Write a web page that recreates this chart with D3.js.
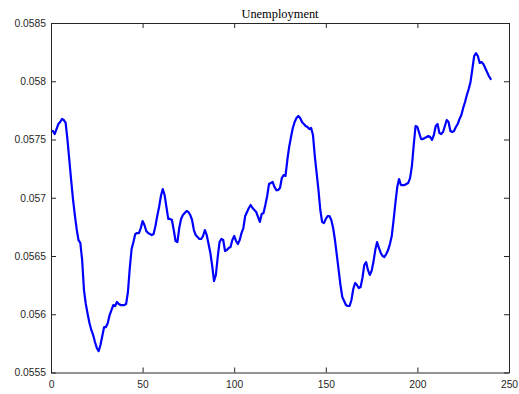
<!DOCTYPE html>
<html>
<head>
<meta charset="utf-8">
<script src="https://cdn.jsdelivr.net/npm/d3@7"></script>
<style>
  html, body { margin: 0; padding: 0; background: #fff; }
  svg { display: block; }
</style>
</head>
<body>
<svg id="chart" width="519" height="394"></svg>
<script>
// Unemployment rate series, periods 1..240
const titleText = "Unemployment";
const periods = d3.range(1, 241);
const unemployment = [
  0.057573, 0.057547, 0.057590, 0.057633, 0.057650, 0.057676, 0.057667, 0.057642, 0.057496, 0.057324,
  0.057152, 0.056989, 0.056852, 0.056732, 0.056637, 0.056612, 0.056466, 0.056208, 0.056088, 0.056002,
  0.055925, 0.055865, 0.055822, 0.055762, 0.055710, 0.055684, 0.055736, 0.055813, 0.055890, 0.055890,
  0.055925, 0.055993, 0.056036, 0.056079, 0.056071, 0.056105, 0.056088, 0.056079, 0.056079, 0.056079,
  0.056088, 0.056191, 0.056397, 0.056560, 0.056620, 0.056689, 0.056697, 0.056697, 0.056740, 0.056800,
  0.056766, 0.056715, 0.056697, 0.056689, 0.056680, 0.056689, 0.056757, 0.056843, 0.056921, 0.057015,
  0.057075, 0.057024, 0.056921, 0.056818, 0.056818, 0.056809, 0.056723, 0.056629, 0.056620, 0.056740,
  0.056818, 0.056852, 0.056869, 0.056886, 0.056878, 0.056852, 0.056809, 0.056723, 0.056680, 0.056663,
  0.056646, 0.056646, 0.056672, 0.056723, 0.056680, 0.056603, 0.056526, 0.056414, 0.056285, 0.056337,
  0.056491, 0.056620, 0.056646, 0.056637, 0.056543, 0.056551, 0.056569, 0.056577, 0.056637, 0.056672,
  0.056629, 0.056603, 0.056637, 0.056697, 0.056740, 0.056843, 0.056878, 0.056912, 0.056938, 0.056912,
  0.056895, 0.056878, 0.056835, 0.056792, 0.056860, 0.056869, 0.056938, 0.057015, 0.057118, 0.057127,
  0.057135, 0.057092, 0.057066, 0.057066, 0.057084, 0.057169, 0.057195, 0.057187, 0.057324, 0.057436,
  0.057521, 0.057599, 0.057650, 0.057685, 0.057702, 0.057685, 0.057650, 0.057633, 0.057616, 0.057607,
  0.057590, 0.057599, 0.057539, 0.057358, 0.057212, 0.057066, 0.056895, 0.056792, 0.056783, 0.056818,
  0.056843, 0.056843, 0.056809, 0.056740, 0.056637, 0.056509, 0.056380, 0.056251, 0.056148, 0.056114,
  0.056079, 0.056071, 0.056071, 0.056122, 0.056217, 0.056268, 0.056251, 0.056225, 0.056234, 0.056311,
  0.056423, 0.056448, 0.056380, 0.056337, 0.056371, 0.056448, 0.056551, 0.056620, 0.056569, 0.056526,
  0.056500, 0.056491, 0.056517, 0.056551, 0.056603, 0.056672, 0.056809, 0.056955, 0.057092, 0.057161,
  0.057109, 0.057109, 0.057109, 0.057118, 0.057127, 0.057169, 0.057272, 0.057453, 0.057616, 0.057607,
  0.057556, 0.057504, 0.057504, 0.057513, 0.057521, 0.057530, 0.057521, 0.057496, 0.057539, 0.057616,
  0.057633, 0.057556, 0.057547, 0.057564, 0.057616, 0.057667, 0.057650, 0.057573, 0.057564, 0.057573,
  0.057607, 0.057633, 0.057676, 0.057710, 0.057770, 0.057822, 0.057882, 0.057933, 0.057994, 0.058105,
  0.058217, 0.058242, 0.058217, 0.058157, 0.058165, 0.058148, 0.058114, 0.058079, 0.058045, 0.058019
];
const xTicks = [0, 50, 100, 150, 200, 250];
const yTicks = [0.0555, 0.056, 0.0565, 0.057, 0.0575, 0.058, 0.0585];
const yTickLabels = ["0.0555", "0.056", "0.0565", "0.057", "0.0575", "0.058", "0.0585"];

const svg = d3.select("#chart");
const plot = { left: 51, right: 509, top: 23, bottom: 372.5 };
const axisColor = "#262626";
const tickLen = 5;

const x = d3.scaleLinear().domain([0, 250]).range([plot.left, plot.right]);
const y = d3.scaleLinear().domain([0.0555, 0.0585]).range([plot.bottom, plot.top]);

function styleAxis(g) {
  g.selectAll("path.domain").attr("stroke", axisColor).attr("stroke-width", 1);
  g.selectAll(".tick line").attr("stroke", axisColor).attr("stroke-width", 1);
  g.selectAll(".tick text")
    .attr("fill", axisColor)
    .style("font-family", "'Liberation Sans', Arial, Helvetica, sans-serif")
    .style("font-size", "10.3px");
}

// bottom axis with labels
svg.append("g")
  .attr("transform", `translate(0,${plot.bottom})`)
  .call(d3.axisBottom(x).tickValues(xTicks).tickFormat(d3.format("d"))
    .tickSizeInner(-tickLen).tickSizeOuter(0).tickPadding(8))
  .call(styleAxis);

// top axis, ticks only
svg.append("g")
  .attr("transform", `translate(0,${plot.top})`)
  .call(d3.axisTop(x).tickValues(xTicks).tickFormat("")
    .tickSizeInner(-tickLen).tickSizeOuter(0))
  .call(styleAxis);

// left axis with labels
svg.append("g")
  .attr("transform", `translate(${plot.left},0)`)
  .call(d3.axisLeft(y).tickValues(yTicks).tickFormat((d, i) => yTickLabels[i])
    .tickSizeInner(-tickLen).tickSizeOuter(0).tickPadding(5))
  .call(styleAxis);

// right axis, ticks only
svg.append("g")
  .attr("transform", `translate(${plot.right},0)`)
  .call(d3.axisRight(y).tickValues(yTicks).tickFormat("")
    .tickSizeInner(-tickLen).tickSizeOuter(0))
  .call(styleAxis);

// the series line
const line = d3.line()
  .x((d, i) => x(periods[i]))
  .y(d => y(d));

svg.append("path")
  .datum(unemployment)
  .attr("fill", "none")
  .attr("stroke", "#0000ff")
  .attr("stroke-width", 2.2)
  .attr("stroke-linejoin", "round")
  .attr("stroke-linecap", "round")
  .attr("d", line);

// title
svg.append("text")
  .attr("x", (plot.left + plot.right) / 2)
  .attr("y", 18)
  .attr("text-anchor", "middle")
  .attr("fill", "#000")
  .style("font-family", "'Liberation Serif', 'Times New Roman', serif")
  .style("font-size", "12.4px")
  .text(titleText);
</script>
</body>
</html>
